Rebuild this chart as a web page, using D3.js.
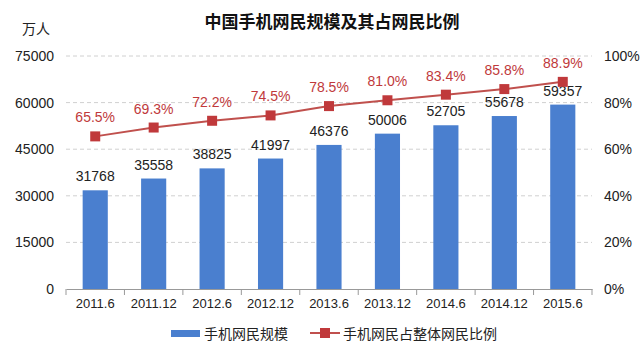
<!DOCTYPE html>
<html><head><meta charset="utf-8">
<script src="https://cdn.jsdelivr.net/npm/d3@7/dist/d3.min.js"></script>
<style>body{margin:0;background:#fff}svg{display:block}text{font-family:"Liberation Sans","Noto Sans CJK SC",sans-serif}</style>
</head><body><svg id="c" width="640" height="360"></svg>
<script>
const categories = ["2011.6","2011.12","2012.6","2012.12","2013.6","2013.12","2014.6","2014.12","2015.6"];
const users = [31768,35558,38825,41997,46376,50006,52705,55678,59357];
const share = [65.5,69.3,72.2,74.5,78.5,81.0,83.4,85.8,88.9];
const leftTicks = [0,15000,30000,45000,60000,75000];
const rightTicks = [0,20,40,60,80,100];

const svg = d3.select("#c");
const m = {l:66, r:592, t:56, b:289};
const x = d3.scaleBand().domain(categories).range([m.l,m.r]).paddingInner(0.57).paddingOuter(0.285);
const y = d3.scaleLinear().domain([0,75000]).range([m.b,m.t]);
const y2 = d3.scaleLinear().domain([0,100]).range([m.b,m.t]);
const cjk = '"Noto Sans CJK SC",sans-serif';

// grid
svg.append("g").selectAll("line").data(leftTicks.slice(1)).join("line")
  .attr("x1",m.l).attr("x2",m.r).attr("y1",d=>y(d)).attr("y2",d=>y(d))
  .attr("stroke","#d0d0d0").attr("stroke-dasharray","4,3");

// left axis
const la = svg.append("g").attr("transform",`translate(${m.l-12},0)`)
  .call(d3.axisLeft(y).tickValues(leftTicks).tickSize(0).tickPadding(0).tickFormat(d3.format("d")));
la.select(".domain").remove();
la.selectAll("text").attr("font-size",14).attr("fill","#222");

// right axis
const ra = svg.append("g").attr("transform",`translate(${m.r+12},0)`)
  .call(d3.axisRight(y2).tickValues(rightTicks).tickSize(0).tickPadding(0).tickFormat(d=>d+"%"));
ra.select(".domain").remove();
ra.selectAll("text").attr("font-size",14).attr("fill","#222");

// bars
svg.append("g").selectAll("rect").data(users).join("rect")
  .attr("x",(d,i)=>x(categories[i])).attr("width",x.bandwidth())
  .attr("y",d=>y(d)).attr("height",d=>y(0)-y(d)).attr("fill","#4a7fcf");
svg.append("g").selectAll("text").data(users).join("text")
  .attr("x",(d,i)=>x(categories[i])+x.bandwidth()/2).attr("y",d=>y(d)-9)
  .attr("text-anchor","middle").attr("font-size",14).attr("fill","#222").text(d=>d);

// x axis
const xa = svg.append("g").attr("transform",`translate(0,${m.b})`)
  .call(d3.axisBottom(x).tickSize(0).tickPadding(10));
xa.select(".domain").attr("stroke","#999");
xa.selectAll("text").attr("font-size",13).attr("fill","#222");
const step = x.step();
svg.append("g").selectAll("line").data(d3.range(categories.length+1)).join("line")
  .attr("x1",i=>m.l+i*step).attr("x2",i=>m.l+i*step).attr("y1",m.b).attr("y2",m.b+6).attr("stroke","#999");

// line
const cx = (d,i)=>x(categories[i])+x.bandwidth()/2;
svg.append("path").datum(share)
  .attr("d",d3.line().x(cx).y(d=>y2(d))).attr("fill","none").attr("stroke","#c0504d").attr("stroke-width",2);
svg.append("g").selectAll("rect").data(share).join("rect")
  .attr("x",(d,i)=>cx(d,i)-5).attr("y",d=>y2(d)-5).attr("width",10).attr("height",10).attr("fill","#c0393b");
svg.append("g").selectAll("text").data(share).join("text")
  .attr("x",cx).attr("y",d=>y2(d)-14).attr("text-anchor","middle").attr("font-size",14)
  .attr("fill","#c0393b").text(d=>d.toFixed(1)+"%");

// title & unit
svg.append("text").attr("x",332).attr("y",28).attr("text-anchor","middle").attr("font-size",17)
  .attr("font-weight","bold").style("font-family",cjk).attr("fill","#111").text("中国手机网民规模及其占网民比例");
svg.append("text").attr("x",22).attr("y",34).attr("font-size",14).style("font-family",cjk).attr("fill","#222").text("万人");

// legend
const lg = svg.append("g");
lg.append("rect").attr("x",171).attr("y",330).attr("width",29).attr("height",7).attr("fill","#4a7fcf");
lg.append("text").attr("x",204).attr("y",339).attr("font-size",14).style("font-family",cjk).attr("fill","#222").text("手机网民规模");
lg.append("line").attr("x1",310).attr("x2",340).attr("y1",333).attr("y2",333).attr("stroke","#c0504d").attr("stroke-width",2);
lg.append("rect").attr("x",320).attr("y",328).attr("width",10).attr("height",10).attr("fill","#c0393b");
lg.append("text").attr("x",343).attr("y",339).attr("font-size",14).style("font-family",cjk).attr("fill","#222").text("手机网民占整体网民比例");
</script></body></html>
